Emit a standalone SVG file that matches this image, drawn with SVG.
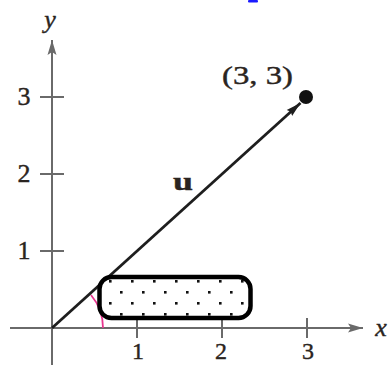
<svg xmlns="http://www.w3.org/2000/svg" width="392" height="365" viewBox="0 0 392 365">
  <style>
    .axis { stroke: #6a6a6a; stroke-width: 2; fill: none; }
    .tick { stroke: #6a6a6a; stroke-width: 2; }
    .lbl { font-family: "Liberation Serif", "Times New Roman", serif; font-size: 26px; fill: #2a2420; stroke: #2a2420; stroke-width: 0.4; }
    .xl { font-size: 24px; }
    .ital { font-style: italic; }
  </style>
  <defs>
    <marker id="axhead" markerWidth="16" markerHeight="10" refX="15" refY="5" orient="auto" markerUnits="userSpaceOnUse">
      <path d="M0,0.5 L15,5 L0,9.5 L3,5 Z" fill="#6a6a6a"/>
    </marker>
    <marker id="vhead" markerWidth="16" markerHeight="10" refX="15" refY="5" orient="auto" markerUnits="userSpaceOnUse">
      <path d="M0,1 L15,5 L0,9 L2,5 Z" fill="#1e1e1e"/>
    </marker>
    <pattern id="dots" patternUnits="userSpaceOnUse" x="109" y="280" width="22" height="22">
      <rect x="0" y="0" width="2.6" height="2.6" fill="#111"/>
      <rect x="11" y="11" width="2.6" height="2.6" fill="#111"/>
    </pattern>
  </defs>

  <rect width="392" height="365" fill="#fff"/>
  <rect x="248" y="0" width="10" height="2.5" rx="1" fill="#1a1aff"/>

  <g id="axes">
    <line class="axis" x1="10" y1="328" x2="363" y2="328" marker-end="url(#axhead)"/>
    <line class="axis" x1="52" y1="365" x2="52" y2="40" marker-end="url(#axhead)"/>
    <line class="tick" x1="137" y1="318" x2="137" y2="338"/>
    <line class="tick" x1="222" y1="318" x2="222" y2="338"/>
    <line class="tick" x1="307" y1="318" x2="307" y2="338"/>
    <line class="tick" x1="40" y1="251" x2="64" y2="251"/>
    <line class="tick" x1="40" y1="174" x2="64" y2="174"/>
    <line class="tick" x1="40" y1="97" x2="64" y2="97"/>
    <text class="lbl ital" x="50" y="28" text-anchor="middle">y</text>
    <text class="lbl ital" x="381" y="336" text-anchor="middle">x</text>
    <text class="lbl" x="24" y="105" text-anchor="middle">3</text>
    <text class="lbl" x="24" y="182" text-anchor="middle">2</text>
    <text class="lbl" x="24" y="259" text-anchor="middle">1</text>
    <text class="lbl xl" x="138" y="359" text-anchor="middle">1</text>
    <text class="lbl xl" x="221" y="359" text-anchor="middle">2</text>
    <text class="lbl xl" x="308" y="359" text-anchor="middle">3</text>
  </g>

  <g id="angle">
    <path d="M103,328 A51,51 0 0 0 91,295" fill="none" stroke="#e8368f" stroke-width="1.8"/>
  </g>

  <g id="connectors">
    <line x1="52" y1="328" x2="300.5" y2="103" stroke="#1e1e1e" stroke-width="2.8" marker-end="url(#vhead)"/>
  </g>

  <g id="vector-label">
    <text class="lbl" x="183" y="190" text-anchor="middle" font-weight="bold" font-size="30" textLength="20" lengthAdjust="spacingAndGlyphs">u</text>
  </g>

  <g id="point">
    <circle cx="306" cy="97" r="7" fill="#111"/>
    <text class="lbl" x="222" y="84" textLength="71" lengthAdjust="spacingAndGlyphs">(3, 3)</text>
  </g>

  <g id="box">
    <rect x="99.5" y="277" width="151" height="41" rx="12" fill="#fff"/>
    <rect x="99.5" y="277" width="151" height="41" rx="12" fill="url(#dots)" stroke="#000" stroke-width="4.5"/>
  </g>
</svg>
